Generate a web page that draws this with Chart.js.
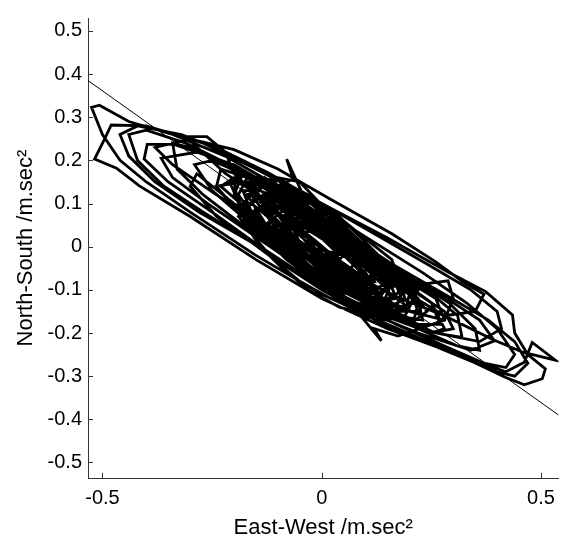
<!DOCTYPE html>
<html>
<head>
<meta charset="utf-8">
<script src="https://cdn.jsdelivr.net/npm/chart.js@4"></script>
<style>
  html, body { margin: 0; padding: 0; background: #fff; }
  #wrap { width: 563px; height: 542px; }
</style>
</head>
<body>
<div id="wrap"><canvas id="hodogram" width="563" height="542"></canvas></div>
<script>
// ground motion trace, East-West (x) vs North-South (y), m/s^2
const onsetTrace = [
  [0.00,0.00],[0.03,-0.04],[0.05,-0.05],[0.03,-0.01],[-0.01,0.03],[-0.04,0.05],[-0.05,0.03],[-0.02,-0.01],
  [0.02,-0.05],[0.07,-0.08],[0.09,-0.06],[0.06,-0.02],[0.01,0.03],[-0.04,0.07],[-0.08,0.08],[-0.09,0.05],
  [-0.05,0.00],[0.00,-0.05],[0.06,-0.09],[0.11,-0.11],[0.12,-0.07],[0.08,-0.02],[0.02,0.04],[-0.05,0.09],
  [-0.11,0.11],[-0.13,0.08],[-0.09,0.02],[-0.02,-0.04],[0.05,-0.09],[0.12,-0.13],[0.16,-0.14],[0.15,-0.09],
  [0.09,-0.03],[0.02,0.03],[-0.06,0.09],[-0.14,0.13],[-0.18,0.13],[-0.16,0.08],[-0.10,0.03],[-0.02,-0.03]
];
const buildTrace = [
  [0.06,-0.09],[0.14,-0.14],[0.21,-0.17],[0.22,-0.13],[0.16,-0.07],[0.08,-0.01],[0.00,0.05],[-0.09,0.11],
  [-0.17,0.16],[-0.23,0.18],[-0.24,0.14],[-0.19,0.08],[-0.11,0.01],[-0.02,-0.06],[0.08,-0.12],[0.17,-0.17],
  [0.25,-0.20],[0.28,-0.19],[0.25,-0.13],[0.17,-0.07],[0.08,-0.01],[-0.02,0.06],[-0.12,0.13],[-0.22,0.19],
  [-0.30,0.23],[-0.34,0.24],[-0.33,0.18],[-0.27,0.12],[-0.18,0.05],[-0.08,-0.02],[0.02,-0.08],[0.12,-0.14],
  [0.22,-0.19],[0.31,-0.23],[0.36,-0.24],[0.35,-0.19],[0.29,-0.13],[0.20,-0.07],[0.10,0.00],[0.00,0.07],
  [-0.10,0.13],[-0.21,0.19],[-0.31,0.24],[-0.40,0.27],[-0.44,0.26],[-0.42,0.20],[-0.36,0.14],[-0.27,0.08],
  [-0.16,0.01],[-0.05,-0.06],[0.06,-0.12],[0.17,-0.18],[0.28,-0.23],[0.37,-0.27],[0.42,-0.28],[0.44,-0.25],
  [0.40,-0.19],[0.33,-0.13],[0.23,-0.06],[0.12,0.01],[0.01,0.08],[-0.10,0.14],[-0.22,0.21],[-0.34,0.26],
  [-0.44,0.29],[-0.507,0.328],[-0.525,0.323],[-0.50,0.26],[-0.46,0.20],[-0.40,0.15],[-0.30,0.08],[-0.15,-0.02],
  [0.00,-0.11],[0.15,-0.18],[0.30,-0.245],[0.417,-0.302],[0.462,-0.32],[0.503,-0.306],[0.51,-0.283],[0.47,-0.25],
  [0.44,-0.20],[0.435,-0.158],[0.374,-0.104],[0.29,-0.06],[0.15,0.02],[0.00,0.10],[-0.15,0.18],[-0.27,0.24],
  [-0.40,0.28],[-0.48,0.282],[-0.495,0.25],[-0.518,0.203],[-0.468,0.182],[-0.416,0.141],[-0.30,0.07],[-0.15,-0.03],
  [0.00,-0.12],[0.15,-0.19],[0.31,-0.25],[0.42,-0.29],[0.462,-0.268],[0.48,-0.222],[0.533,-0.263],[0.46,-0.245],
  [0.39,-0.215],[0.28,-0.16],[0.15,-0.08],[0.02,0.01],[-0.10,0.09],[-0.22,0.17],[-0.31,0.255],[-0.262,0.255],
  [-0.22,0.22]
];
const peakTrace = [
  [-0.20,0.17],[-0.12,0.09],[-0.02,0.01],[0.08,-0.06],[0.18,-0.093],[0.288,-0.079],[0.30,-0.12],[0.28,-0.17],
  [0.20,-0.15],[0.10,-0.10],[0.00,-0.04],[-0.10,0.03],[-0.20,0.10],[-0.285,0.169],[-0.30,0.14],[-0.24,0.07],
  [-0.12,-0.02],[0.00,-0.10],[0.14,-0.18],[0.28,-0.24],[0.40,-0.29],[0.44,-0.30],[0.47,-0.27],[0.44,-0.22],
  [0.38,-0.17],[0.28,-0.11],[0.16,-0.04],[0.04,0.04],[-0.08,0.12],[-0.20,0.19],[-0.337,0.237],[-0.398,0.237],
  [-0.405,0.203],[-0.35,0.15],[-0.25,0.08],[-0.14,0.00],[-0.02,-0.08],[0.10,-0.15],[0.22,-0.20],[0.34,-0.24],
  [0.394,-0.218],[0.36,-0.17],[0.27,-0.11],[0.16,-0.05],[0.05,0.02],[-0.06,0.09],[-0.17,0.16],[-0.28,0.22],
  [-0.366,0.205],[-0.34,0.16],[-0.26,0.10],[-0.16,0.03],[-0.06,-0.04],[0.04,-0.10],[0.136,-0.218],[0.12,-0.19],
  [0.174,-0.207],[0.28,-0.17],[0.26,-0.12],[0.18,-0.07],[0.08,0.00],[-0.02,0.07],[-0.08,0.203],[-0.065,0.157],
  [-0.10,0.14],[-0.18,0.15],[-0.24,0.14],[-0.20,0.09],[-0.12,0.02],[-0.03,-0.05],[0.07,-0.11],[0.17,-0.16],
  [0.26,-0.20],[0.32,-0.21],[0.31,-0.16],[0.24,-0.10],[0.14,-0.04],[0.04,0.03],[-0.06,0.10],[-0.16,0.16],
  [-0.25,0.20],[-0.29,0.19],[-0.25,0.13],[-0.17,0.06],[-0.07,-0.02],[0.03,-0.08],[0.13,-0.14],[0.22,-0.18],
  [0.27,-0.18],[0.25,-0.13],[0.17,-0.07],[0.08,-0.01],[-0.02,0.06],[-0.12,0.12],[-0.20,0.16],[-0.23,0.14]
];
const secondPeakTrace = [
  [-0.14,0.06],[-0.24,0.12],[-0.34,0.19],[-0.38,0.23],[-0.30,0.25],[-0.20,0.225],[-0.10,0.18],[0.02,0.11],
  [0.16,0.03],[0.26,-0.035],[0.32,-0.08],[0.37,-0.11],[0.35,-0.15],[0.28,-0.16],[0.18,-0.12],[0.06,-0.06],
  [-0.05,-0.06],[-0.16,0.01],[-0.28,0.08],[-0.38,0.15],[-0.44,0.21],[-0.46,0.26],[-0.42,0.28],[-0.32,0.26],
  [-0.22,0.22],[-0.12,0.17],[0.00,0.10],[0.12,0.03],[0.24,-0.04],[0.34,-0.10],[0.40,-0.15],[0.41,-0.19],
  [0.36,-0.22],[0.26,-0.20],[0.14,-0.15],[0.02,-0.09],[-0.06,0.01],[-0.18,0.08]
];
const decayTrace = [
  [-0.19,0.09],[-0.11,0.02],[-0.02,-0.05],[0.08,-0.11],[0.17,-0.15],[0.22,-0.15],[0.20,-0.10],[0.13,-0.05],
  [0.04,0.01],[-0.05,0.07],[-0.14,0.13],[-0.20,0.15],[-0.19,0.10],[-0.12,0.04],[-0.03,-0.03],[0.06,-0.09],
  [0.14,-0.13],[0.19,-0.14],[0.17,-0.09],[0.10,-0.04],[0.02,0.02],[-0.07,0.08],[-0.15,0.12],[-0.17,0.09],
  [-0.11,0.03],[-0.03,-0.03],[0.05,-0.08],[0.12,-0.12],[0.16,-0.12],[0.13,-0.07],[0.06,-0.02],[-0.02,0.04],
  [-0.10,0.09],[-0.14,0.09],[-0.10,0.04],[-0.03,-0.01],[0.04,-0.06],[0.11,-0.10],[0.14,-0.09],[0.10,-0.05],
  [0.03,0.00],[-0.05,0.05],[-0.11,0.08],[-0.12,0.05],[-0.07,0.01],[0.05,-0.02],[0.14,-0.06],[0.22,-0.11],
  [0.28,-0.15],[0.30,-0.19],[0.25,-0.20],[0.17,-0.17],[0.09,-0.14],[0.02,-0.11],[-0.05,-0.06]
];
const swarmTrace = [
  [-0.16,0.15],[-0.12,0.08],[-0.05,0.01],[0.03,-0.06],[0.12,-0.12],[0.19,-0.15],[0.20,-0.11],[0.14,-0.05],
  [0.06,0.02],[-0.03,0.09],[-0.11,0.15],[-0.17,0.16],[-0.19,0.12],[-0.14,0.05],[-0.06,-0.02],[0.03,-0.09],
  [0.11,-0.13],[0.17,-0.12],[0.15,-0.07],[0.08,-0.01],[0.00,0.06],[-0.08,0.12],[-0.13,0.16],[-0.15,0.12],
  [-0.10,0.05],[-0.02,-0.03],[0.06,-0.10],[0.14,-0.14],[0.18,-0.10],[0.12,-0.03],[0.04,0.04],[-0.04,0.10],
  [-0.10,0.14],[-0.12,0.10],[-0.06,0.02],[0.04,-0.05],[0.14,-0.08],[0.20,-0.09],[0.17,-0.05],[0.09,0.01],
  [0.00,0.07],[-0.08,0.13],[-0.14,0.16],[-0.16,0.12],[-0.11,0.05],[-0.03,-0.03],[0.06,-0.09],[0.13,-0.11],
  [0.10,-0.06],[0.02,0.01],[-0.06,0.08],[-0.13,0.12],[-0.12,0.07],[-0.05,0.01],[0.04,-0.05],[0.10,-0.12],
  [0.16,-0.16],[0.12,-0.15],[0.04,-0.11],[-0.04,-0.05],[-0.12,0.01],[-0.17,0.05],[-0.15,0.09],[-0.08,0.07],
  [0.00,0.02],[0.08,-0.03],[0.15,-0.06],[0.18,-0.07],[0.14,-0.10],[0.06,-0.07],[-0.02,-0.01],[-0.10,0.05],
  [-0.16,0.10],[-0.12,0.13],[-0.04,0.11],[0.04,0.05],[0.10,-0.01],[-0.05,0.15],[-0.10,0.16],[-0.08,0.12],
  [-0.02,0.06],[0.05,0.00],[0.12,-0.05],[0.16,-0.08],[0.13,-0.12],[0.05,-0.10],[-0.03,-0.05],[-0.10,0.01],
  [-0.14,0.06]
];
const denseTrace = [
  [-0.20,0.13],[-0.16,0.05],[-0.08,-0.03],[0.00,-0.09],[0.08,-0.13],[0.16,-0.15],[0.21,-0.13],[0.18,-0.07],
  [0.10,-0.01],[0.00,0.06],[-0.08,0.11],[-0.16,0.15],[-0.21,0.15],[-0.18,0.08],[-0.10,0.00],[-0.01,-0.07],
  [0.08,-0.12],[0.17,-0.16],[0.23,-0.17],[0.22,-0.12],[0.14,-0.05],[0.05,0.02],[-0.05,0.09],[-0.13,0.14],
  [-0.17,0.12],[-0.12,0.04],[-0.04,-0.04],[0.05,-0.10],[0.13,-0.15],[0.20,-0.18],[0.24,-0.15],[0.19,-0.08],
  [0.11,-0.02],[0.02,0.05],[-0.06,0.11],[-0.12,0.15],[-0.18,0.17],[-0.20,0.12],[-0.15,0.04],[-0.07,-0.03],
  [0.02,-0.10],[0.10,-0.14],[0.17,-0.14],[0.19,-0.09],[0.13,-0.03],[0.04,0.03],[-0.04,0.08],[-0.11,0.13],
  [-0.14,0.16],[-0.09,0.15],[-0.03,0.12],[0.04,0.07],[0.10,0.01],[0.15,-0.04],[0.17,-0.09],[0.12,-0.11],
  [0.04,-0.08],[-0.04,-0.04],[-0.12,0.02],[-0.18,0.06],[-0.14,0.00],[-0.06,-0.06],[0.02,-0.11],[0.09,-0.16],
  [0.14,-0.17],[0.19,-0.16],[0.22,-0.10],[0.15,-0.05],[0.08,0.00],[0.02,0.05],[-0.04,0.12],[-0.08,0.14],
  [-0.12,0.13],[-0.10,0.08],[-0.04,0.03],[0.03,-0.03],[0.09,-0.07],[0.14,-0.12],[0.11,-0.08],[0.06,-0.05],
  [-0.01,0.01],[-0.07,0.06],[-0.13,0.09],[-0.16,0.08],[-0.10,0.02],[-0.02,-0.05],[0.05,-0.09],[0.12,-0.10],
  [0.08,-0.04],[0.01,0.02],[-0.05,0.07],[-0.09,0.05],[-0.03,-0.01],[0.03,-0.06],[0.09,-0.06],[0.05,-0.02]
];
const fillTrace = [
  [0.01,0.01],[-0.06,0.11],[-0.12,0.14],[-0.07,0.13],[0.00,0.09],[0.06,0.04],[0.12,-0.02],[0.17,-0.06],
  [0.14,-0.13],[0.08,-0.14],[0.02,-0.12],[-0.05,-0.08],[-0.11,-0.03],[-0.16,0.03],[-0.19,0.07],[-0.15,0.11],
  [-0.09,0.12],[-0.02,0.10],[0.05,0.06],[0.11,0.01],[0.16,-0.03],[0.19,-0.12],[0.12,-0.16],[0.04,-0.14],
  [-0.03,-0.10],[-0.09,-0.05],[-0.14,0.00],[-0.18,0.10],[-0.13,0.15],[-0.05,0.13],[0.02,0.08],[0.08,0.02],
  [0.13,-0.05],[0.10,-0.12],[0.03,-0.10],[-0.04,-0.06],[-0.10,-0.01],[-0.13,0.05],[-0.08,0.09],[-0.01,0.05],
  [0.05,-0.01]
];
const codaTrace = [
  [0.00,-0.03],[0.07,-0.07],[0.12,-0.08],[0.10,-0.04],[0.04,0.01],[-0.03,0.06],[-0.09,0.10],[-0.12,0.11],
  [-0.09,0.06],[-0.02,0.00],[0.05,-0.05],[0.10,-0.09],[0.13,-0.12],[0.08,-0.11],[0.01,-0.06],[-0.06,-0.01],
  [-0.12,0.04],[-0.15,0.08],[-0.11,0.12],[-0.04,0.10],[0.03,0.05],[0.09,0.00],[0.12,-0.04],[0.08,-0.07],
  [0.02,-0.04],[-0.04,0.00],[-0.09,0.04],[-0.08,0.08],[-0.02,0.06],[0.04,0.02],[0.08,-0.03],[0.06,-0.06],
  [0.00,-0.03],[-0.05,0.01],[-0.07,0.05],[-0.03,0.05],[0.02,0.01],[0.05,-0.02],[0.03,-0.04],[-0.01,-0.01],
  [-0.04,0.03],[-0.02,0.04],[0.01,0.01]
];

// principal direction line
const fitLineX = [-0.533, 0.54];
const fitLineY = [0.385, -0.39];

const xTicks = [-0.5, 0, 0.5];
const yTicks = [-0.5, -0.4, -0.3, -0.2, -0.1, 0, 0.1, 0.2, 0.3, 0.4, 0.5];

const tracePoints = onsetTrace
  .concat(buildTrace, peakTrace, secondPeakTrace, decayTrace, swarmTrace, denseTrace, fillTrace, codaTrace)
  .map(p => ({ x: p[0], y: p[1] }));
const linePoints = fitLineX.map((x, i) => ({ x: x, y: fitLineY[i] }));

// matlab style ticks pointing into the axes
const inwardTicks = {
  id: 'inwardTicks',
  afterDraw(chart) {
    const { ctx, chartArea, scales } = chart;
    ctx.save();
    ctx.strokeStyle = '#333';
    ctx.lineWidth = 1;
    ctx.beginPath();
    xTicks.forEach(v => {
      const px = Math.round(scales.x.getPixelForValue(v)) + 0.5;
      ctx.moveTo(px, chartArea.bottom);
      ctx.lineTo(px, chartArea.bottom - 5);
    });
    yTicks.forEach(v => {
      const py = Math.round(scales.y.getPixelForValue(v)) + 0.5;
      ctx.moveTo(chartArea.left, py);
      ctx.lineTo(chartArea.left + 5, py);
    });
    ctx.stroke();
    ctx.restore();
  }
};

const font = "'Liberation Sans', Arial, Helvetica, sans-serif";
Chart.defaults.font.family = font;
Chart.defaults.color = '#000';

const ctx = document.getElementById('hodogram').getContext('2d');
const hodogram = new Chart(ctx, {
  type: 'scatter',
  data: {
    datasets: [
      {
        data: tracePoints,
        showLine: true,
        borderColor: '#000',
        borderWidth: 2.8,
        pointRadius: 0,
        tension: 0,
        borderJoinStyle: 'miter'
      },
      {
        data: linePoints,
        showLine: true,
        borderColor: '#000',
        borderWidth: 1,
        pointRadius: 0
      }
    ]
  },
  options: {
    responsive: false,
    animation: false,
    layout: { padding: { top: 9, right: 3, left: 0, bottom: 0 } },
    plugins: {
      legend: { display: false },
      tooltip: { enabled: false }
    },
    scales: {
      x: {
        type: 'linear',
        min: -0.533,
        max: 0.54,
        afterBuildTicks: s => { s.ticks = xTicks.map(v => ({ value: v })); },
        afterFit: s => { s.height = 64; },
        grid: { display: false, drawTicks: false },
        border: { display: true, color: '#333', width: 1 },
        ticks: { font: { size: 20 }, padding: 8, maxRotation: 0, callback: v => String(v) },
        title: { display: true, text: 'East-West /m.sec²', font: { size: 22 }, padding: { top: 0, bottom: 1 } }
      },
      y: {
        type: 'linear',
        min: -0.536,
        max: 0.53,
        afterBuildTicks: s => { s.ticks = yTicks.map(v => ({ value: v })); },
        afterFit: s => { s.width = 88; },
        grid: { display: false, drawTicks: false },
        border: { display: true, color: '#333', width: 1 },
        ticks: { font: { size: 20 }, padding: 6, callback: v => String(v) },
        title: { display: true, text: 'North-South /m.sec²', font: { size: 22 }, padding: { top: 13, bottom: 0 } }
      }
    }
  },
  plugins: [inwardTicks]
});
</script>
</body>
</html>
